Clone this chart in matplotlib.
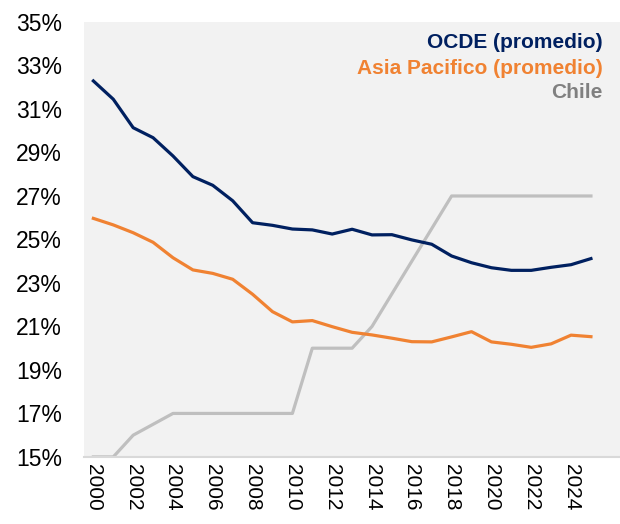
import matplotlib
matplotlib.use("Agg")
import matplotlib.pyplot as plt

plt.rcParams['font.family'] = ['Liberation Sans', 'DejaVu Sans']

years = list(range(2000, 2026))
ocde = [32.29, 31.45, 30.14, 29.68, 28.84, 27.89, 27.49, 26.78, 25.77, 25.65,
        25.48, 25.44, 25.25, 25.47, 25.21, 25.22, 24.98, 24.78, 24.24, 23.93,
        23.70, 23.58, 23.58, 23.72, 23.84, 24.12]
asia = [25.97, 25.67, 25.31, 24.87, 24.16, 23.60, 23.44, 23.17, 22.48, 21.68,
        21.21, 21.27, 20.99, 20.73, 20.61, 20.46, 20.30, 20.29, 20.52, 20.76,
        20.29, 20.18, 20.04, 20.20, 20.60, 20.53]
chile = [15, 15, 16, 16.5, 17, 17, 17, 17, 17, 17,
         17, 20, 20, 20, 21, 22.5, 24, 25.5, 27, 27,
         27, 27, 27, 27, 27, 27]
series_names = ['OCDE (promedio)', 'Asia Pacifico (promedio)', 'Chile']
colors = ['#002060', '#F08232', '#BFBFBF']
text_colors = ['#002060', '#F08232', '#808080']
yticks = list(range(15, 36, 2))
xticks = list(range(2000, 2025, 2))

fig = plt.figure(figsize=(6.2, 5.24), dpi=100)
ax = fig.add_axes([0.1355, 0.128, 0.8645, 0.830])
ax.set_facecolor('#F2F2F2')

for vals, c in zip([chile, asia, ocde], [colors[2], colors[1], colors[0]]):
    ax.plot(years, vals, color=c, lw=2.3, solid_joinstyle='round')

ax.set_xlim(1999.53, 2026.46)
ax.set_ylim(15, 35)
ax.set_yticks(yticks)
ax.set_yticklabels([f'{v}%' for v in yticks], fontsize=16.5)
ax.set_xticks(xticks)
ax.set_xticklabels([str(v) for v in xticks], rotation=-90, fontsize=15)
ax.tick_params(axis='x', length=0, pad=5)
ax.tick_params(axis='y', length=0, pad=16)

for s in ['top', 'right', 'left']:
    ax.spines[s].set_visible(False)
ax.spines['bottom'].set_color('#D9D9D9')
ax.spines['bottom'].set_linewidth(1.5)

ys = [0.952, 0.893, 0.837]
for name, tc, yy in zip(series_names, text_colors, ys):
    ax.text(0.968, yy, name, transform=ax.transAxes, ha='right', va='center',
            fontsize=15, fontweight='bold', color=tc)

fig.savefig('out.png', dpi=100)
